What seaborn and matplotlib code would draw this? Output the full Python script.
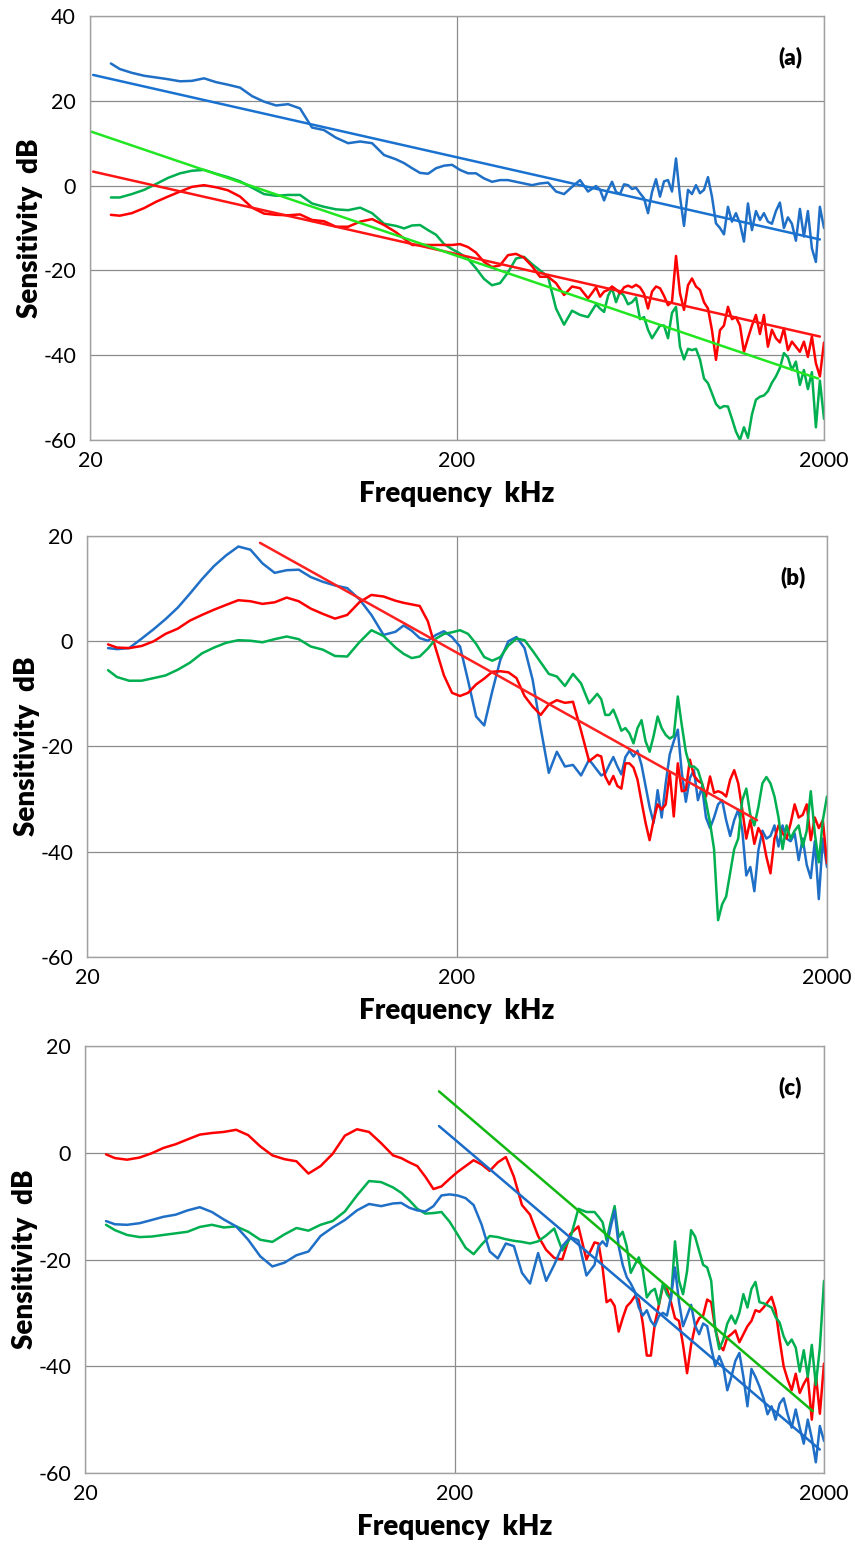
import numpy as np
import pandas as pd
import matplotlib
matplotlib.use("Agg")
import matplotlib.pyplot as plt
from matplotlib.ticker import NullLocator
import seaborn as sns

sns.set_theme(style="white")
plt.rcParams['font.family'] = ['Lato', 'DejaVu Sans']
plt.rcParams['axes.unicode_minus'] = False

# ---------------- data ----------------
FREQ = [22.8, 24.1, 26.0, 28.1, 30.3, 32.6, 35.2, 37.9, 40.9, 44.1, 47.5, 51.3, 55.3, 59.6, 64.3,
        69.3, 74.7, 80.5, 86.8, 93.6, 101.0, 108.9, 117.4, 126.6, 136.4,
        143.5, 150.9, 158.6, 166.8, 175.4, 184.4, 193.9, 203.8, 214.3, 225.3, 236.9, 249.1, 262.0,
        275.4, 289.6, 304.5, 320.2, 336.7, 354.1, 372.3, 391.5, 411.6, 432.8, 455.1, 478.6,
        490.7, 503.2, 516.0, 529.1, 542.5, 556.3, 570.4, 584.9, 599.8, 615.0,
        630.6, 646.6, 663.0, 679.9, 697.1, 714.8, 733.0, 751.6, 770.7, 790.3,
        810.3, 830.9, 852.0, 873.6, 895.8, 918.6, 941.9, 965.8, 990.3, 1015.5,
        1041.3, 1067.7, 1094.8, 1122.6, 1151.1, 1180.4, 1210.3, 1241.1, 1272.6, 1304.9,
        1338.0, 1372.0, 1406.8, 1442.5, 1479.2, 1516.7, 1555.2, 1594.7, 1635.2, 1676.8,
        1719.3, 1763.0, 1807.8, 1853.7, 1900.7, 1949.0, 2000.0]

# panel (a)
A_BLUE = [28.8, 27.5, 26.6, 25.9, 25.5, 25.1, 24.6, 24.7, 25.3, 24.4, 23.8, 23.1, 21.1, 19.8, 18.9,
          19.2, 18.2, 13.7, 13.1, 11.3, 10.0, 10.4, 10.0, 7.2, 6.2,
          5.3, 4.1, 3.0, 2.8, 4.1, 4.7, 4.9, 3.7, 2.9, 2.9, 1.7, 0.9, 1.3, 1.3, 0.9, 0.5, 0.1, 0.5,
          0.7, -1.4, -2.0, -0.3, 1.3, -1.4, -0.1,
          -1.0, -3.5, -1.0, 0.9, -1.5, -2.0, 0.3, 0.1, -0.8, -0.5,
          -1.8, -3.0, -6.5, -1.5, 1.5, -2.6, 1.0, 1.3, -1.4, 6.4,
          -2.6, -9.5, -1.0, -2.0, 0.1, -1.8, -1.0, 2.0, -2.6, -8.9,
          -10.0, -11.5, -5.0, -8.5, -6.5, -8.9, -13.2, -4.2, -10.5, -6.0,
          -8.1, -6.5, -8.5, -9.0, -6.0, -4.0, -10.0, -7.5, -9.0, -13.0,
          -5.5, -12.0, -6.0, -14.8, -18.0, -5.0, -10.0]
A_RED = [-6.9, -7.1, -6.5, -5.3, -3.8, -2.6, -1.4, -0.3, 0.1, -0.4, -1.1, -2.6, -5.2, -6.6, -6.9,
         -7.0, -6.8, -8.1, -8.4, -9.7, -9.7, -8.5, -7.9, -9.3, -11.0,
         -12.5, -14.0, -14.0, -14.0, -14.0, -14.0, -14.0, -13.8, -14.5, -15.8, -18.0, -19.2, -18.8,
         -16.4, -16.1, -17.0, -19.0, -21.5, -21.5, -23.0, -25.8, -23.8, -24.2, -26.6, -24.0,
         -26.2, -25.0, -24.6, -23.8, -24.5, -25.4, -24.0, -23.6, -24.0, -23.4,
         -24.0, -25.5, -29.0, -25.0, -23.8, -24.2, -26.0, -28.2, -27.4, -16.6,
         -25.4, -29.3, -23.5, -21.9, -23.8, -24.6, -27.5, -29.0, -34.1, -41.1,
         -34.1, -33.0, -28.6, -31.5, -31.0, -33.0, -39.2, -36.0, -33.0, -30.5,
         -35.0, -30.5, -38.0, -34.0, -36.0, -37.0, -33.7, -38.8, -36.8, -38.0,
         -39.2, -36.8, -40.4, -35.6, -41.9, -45.0, -37.0]
A_GREEN = [-2.8, -2.8, -2.0, -1.0, 0.4, 1.8, 2.9, 3.5, 3.7, 2.8, 2.0, 1.0, -0.5, -2.0, -2.4,
           -2.2, -2.2, -4.2, -5.0, -5.6, -5.8, -5.2, -6.5, -9.0, -9.5,
           -10.1, -9.4, -9.3, -10.5, -11.6, -13.8, -15.0, -16.0, -17.3, -19.5, -22.0, -23.5, -23.0,
           -20.5, -17.2, -16.8, -18.5, -20.0, -21.5, -29.0, -32.8, -29.5, -30.5, -31.0, -28.0,
           -29.0, -29.8, -26.0, -24.2, -27.5, -25.0, -26.0, -28.0, -27.5, -26.4,
           -31.5, -31.0, -34.0, -36.0, -34.5, -33.0, -33.0, -36.0, -30.0, -28.6,
           -38.0, -41.0, -38.5, -38.8, -38.5, -41.0, -45.5, -46.6, -49.0, -51.5,
           -52.5, -52.0, -52.1, -55.0, -58.0, -60.0, -57.0, -59.5, -54.0, -50.5,
           -49.8, -49.5, -48.5, -46.5, -45.0, -43.0, -39.5, -40.5, -43.5, -41.5,
           -47.0, -43.5, -48.0, -44.0, -57.0, -46.0, -55.0]

# panel (b)
B_BLUE = [-1.3, -1.5, -1.3, 0.5, 2.3, 4.2, 6.4, 9.0, 11.8, 14.3, 16.3, 18.0, 17.4, 14.8, 13.0,
          13.5, 13.6, 12.2, 11.3, 10.6, 10.1, 8.0, 5.0, 1.2, 1.8,
          3.0, 2.0, 0.6, 0.1, 1.2, 1.9, 0.8, -1.0, -7.5, -14.3, -16.0, -9.5, -3.5, 0.0, 0.8, -1.3,
          -7.3, -16.5, -25.0, -21.0, -23.8, -23.5, -25.5, -22.5, -24.5,
          -25.5, -25.1, -23.5, -22.0, -23.8, -25.3, -22.0, -20.8, -21.9, -20.8,
          -23.5, -27.5, -31.5, -34.5, -28.3, -33.5, -27.0, -21.5, -19.0, -16.8,
          -25.0, -30.5, -26.0, -24.5, -30.2, -27.6, -33.5, -35.5, -33.5, -31.0,
          -30.2, -34.0, -37.0, -34.0, -32.0, -35.9, -44.5, -42.9, -47.5, -39.7,
          -36.0, -37.5, -37.0, -35.0, -39.0, -35.0, -37.5, -38.0, -36.5, -41.6,
          -37.5, -42.5, -45.0, -38.0, -49.0, -37.5, -42.9]
B_RED = [-0.6, -1.2, -1.3, -0.9, 0.0, 1.4, 2.4, 3.9, 5.0, 6.0, 6.9, 7.8, 7.6, 7.1, 7.4,
         8.3, 7.6, 6.2, 5.2, 4.3, 5.0, 7.4, 8.8, 8.5, 7.7,
         7.3, 7.0, 6.7, 3.8, -1.5, -6.5, -9.8, -10.4, -9.8, -8.2, -7.1, -5.8, -5.7, -5.9, -7.0,
         -10.4, -12.4, -14.0, -12.0, -11.2, -11.7, -11.5, -17.0, -22.8, -21.6,
         -21.9, -25.7, -27.2, -25.6, -27.5, -28.0, -23.2, -23.2, -24.0, -26.3,
         -30.5, -34.5, -37.8, -34.0, -31.0, -32.0, -31.0, -25.0, -33.3, -23.2,
         -28.5, -28.3, -22.5, -25.5, -26.5, -27.0, -29.5, -25.7, -28.8, -28.5,
         -28.8, -29.5, -26.3, -24.5, -27.0, -32.0, -37.5, -34.0, -38.5, -35.5,
         -37.0, -41.0, -44.1, -37.5, -35.0, -36.5, -37.5, -34.6, -31.0, -33.5,
         -33.0, -31.0, -37.8, -33.5, -35.5, -34.0, -42.2]
B_GREEN = [-5.5, -6.8, -7.5, -7.5, -7.0, -6.5, -5.4, -4.1, -2.3, -1.2, -0.3, 0.2, 0.1, -0.2, 0.4,
           0.9, 0.4, -1.0, -1.6, -2.8, -2.9, -0.2, 2.1, 1.0, -1.2,
           -2.4, -3.2, -2.9, -1.4, 0.5, 1.4, 1.7, 2.1, 1.4, -0.5, -3.0, -3.7, -3.0, -0.8, 0.5, 0.2,
           -1.8, -4.0, -6.2, -6.7, -8.5, -6.2, -8.0, -11.8, -10.0,
           -11.0, -14.0, -14.0, -13.0, -14.9, -17.0, -16.5, -17.5, -19.4, -16.5,
           -15.0, -19.0, -21.0, -18.0, -14.3, -16.5, -17.8, -18.5, -18.0, -10.5,
           -16.0, -21.0, -23.8, -23.8, -24.5, -27.0, -30.5, -34.5, -39.5, -53.0,
           -50.0, -48.5, -44.0, -39.5, -37.5, -30.2, -28.0, -33.0, -35.0, -31.5,
           -27.0, -25.8, -27.0, -29.5, -33.5, -39.5, -35.0, -37.5, -36.0, -35.0,
           -39.0, -36.0, -28.5, -36.5, -42.0, -34.0, -29.5]

# panel (c)
C_RED = [-0.3, -1.0, -1.3, -0.9, -0.1, 0.9, 1.6, 2.5, 3.4, 3.7, 3.9, 4.3, 3.3, 1.2, -0.5,
         -1.2, -1.6, -3.9, -2.5, -0.2, 3.2, 4.4, 3.9, 1.8, -0.5,
         -1.0, -1.8, -2.5, -4.5, -6.8, -6.3, -4.9, -3.6, -2.5, -1.4, -2.2, -3.4, -1.8, -0.8, -4.5,
         -9.8, -11.6, -15.6, -18.2, -19.7, -20.0, -15.2, -13.8, -20.0, -16.8,
         -17.0, -21.5, -28.0, -27.5, -28.7, -33.5, -31.0, -28.8, -28.0, -26.9,
         -27.5, -32.0, -38.0, -38.0, -32.0, -28.5, -25.0, -25.5, -28.0, -31.0,
         -31.5, -36.0, -41.3, -36.0, -32.5, -31.0, -30.5, -27.5, -28.0, -33.0,
         -36.0, -37.0, -34.6, -34.0, -33.3, -35.5, -34.0, -32.5, -31.5, -29.5,
         -29.8, -29.0, -28.0, -27.0, -29.5, -35.0, -40.0, -42.5, -44.5, -41.4,
         -45.0, -43.3, -42.0, -50.0, -41.5, -48.9, -39.5]
C_BLUE = [-12.8, -13.4, -13.5, -13.2, -12.6, -12.0, -11.6, -10.8, -10.2, -11.1, -12.5, -13.8, -16.3,
          -19.4, -21.3, -20.6, -19.2, -18.5, -15.6, -14.0, -12.6, -10.8, -9.6, -10.0, -9.5,
          -9.4, -10.3, -10.8, -11.0, -10.0, -8.0, -7.8, -8.0, -8.5, -9.8, -13.5, -18.5, -19.8, -17.0,
          -17.5, -22.5, -24.5, -18.8, -24.0, -21.0, -17.5, -15.8, -16.4, -23.0, -21.0,
          -17.5, -16.6, -17.5, -14.0, -10.8, -17.5, -21.0, -23.3, -24.5, -26.0,
          -29.0, -30.5, -29.5, -31.5, -32.5, -30.6, -30.0, -30.5, -27.0, -21.5,
          -28.0, -32.5, -30.5, -28.5, -32.4, -34.0, -32.0, -32.5, -36.5, -40.0,
          -38.1, -40.0, -44.5, -42.0, -39.0, -37.5, -42.0, -47.5, -40.5, -42.0,
          -43.8, -46.0, -49.0, -47.5, -50.0, -47.0, -46.0, -49.0, -51.5, -48.1,
          -51.5, -54.5, -50.0, -53.5, -58.0, -51.2, -54.0]
C_GREEN = [-13.5, -14.5, -15.4, -15.8, -15.7, -15.4, -15.1, -14.8, -13.9, -13.5, -14.0, -13.8, -14.8,
           -16.3, -16.7, -15.3, -14.1, -14.6, -13.5, -12.8, -11.0, -8.0, -5.3, -5.5, -6.5,
           -7.5, -8.9, -10.5, -11.4, -11.3, -11.1, -12.9, -15.3, -17.8, -19.0, -17.2, -15.6, -15.8,
           -16.2, -16.5, -16.7, -17.0, -16.6, -15.5, -14.2, -18.3, -16.0, -10.5, -11.1, -11.1,
           -12.0, -13.0, -16.4, -13.0, -10.0, -15.8, -14.8, -17.5, -22.5, -21.0,
           -19.6, -22.0, -27.1, -26.0, -25.5, -28.4, -24.5, -26.5, -27.5, -16.6,
           -24.0, -26.5, -22.2, -14.5, -15.7, -18.4, -21.0, -21.5, -24.0, -33.0,
           -36.8, -35.0, -32.0, -30.5, -32.0, -30.0, -26.5, -29.0, -25.5, -24.2,
           -28.0, -28.2, -28.6, -29.0, -30.8, -31.8, -34.4, -36.0, -35.0, -36.5,
           -41.0, -37.0, -42.0, -36.0, -43.5, -36.5, -24.0]

# straight trend lines: (start freq, end freq), (start dB, end dB)
A_FIT_BLUE = ([20.4, 1949.0], [26.1, -12.7])
A_FIT_RED = ([20.4, 1949.0], [3.3, -35.6])
A_FIT_GREEN = ([20.2, 1926.0], [12.7, -45.5])
B_FIT_RED = ([58.7, 1294.0], [18.7, -34.0])
C_FIT_GREEN = ([181.6, 1864.0], [11.5, -48.4])
C_FIT_BLUE = ([181.6, 1948.0], [5.0, -55.6])

X_TICKS = [20, 200, 2000]
X_TICK_LABELS = ["20", "200", "2000"]
A_Y_TICKS = [-60, -40, -20, 0, 20, 40]
BC_Y_TICKS = [-60, -40, -20, 0, 20]
PANEL_LABELS = ["(a)", "(b)", "(c)"]

# ---------------- style ----------------
BLUE = "#1F6FC6"
RED = "#FF0000"
GREEN = "#00B050"
W, H = 855, 1544

fig = plt.figure(figsize=(W / 100, H / 100), dpi=100)

panels = [
    dict(box=(90, 16, 824, 440), ylim=(-60, 40), yticks=A_Y_TICKS,
         curves=[(A_GREEN, GREEN), (A_RED, RED), (A_BLUE, BLUE)],
         fits=[(A_FIT_BLUE, "#1A72D0"), (A_FIT_RED, "#FF1414"), (A_FIT_GREEN, "#22E622")]),
    dict(box=(87, 536, 827, 957), ylim=(-60, 20), yticks=BC_Y_TICKS,
         curves=[(B_BLUE, BLUE), (B_RED, RED), (B_GREEN, GREEN)],
         fits=[(B_FIT_RED, "#FF2020")]),
    dict(box=(85, 1046, 824, 1473), ylim=(-60, 20), yticks=BC_Y_TICKS,
         curves=[(C_RED, RED), (C_GREEN, GREEN), (C_BLUE, BLUE)],
         fits=[(C_FIT_GREEN, "#12B812"), (C_FIT_BLUE, "#1A6CC8")]),
]

for p, label in zip(panels, PANEL_LABELS):
    l, t, r, b = p["box"]
    ax = fig.add_axes([l / W, 1 - b / H, (r - l) / W, (b - t) / H])
    for vals, col in p["curves"]:
        df = pd.DataFrame({"freq": FREQ, "db": vals})
        sns.lineplot(data=df, x="freq", y="db", color=col, lw=1.8, ax=ax,
                     estimator=None, sort=False)
    for (fx, fy), col in p["fits"]:
        dff = pd.DataFrame({"freq": fx, "db": fy})
        sns.lineplot(data=dff, x="freq", y="db", color=col, lw=1.8, ax=ax,
                     estimator=None, sort=False)
    ax.set_xscale("log")
    ax.set_xlim(20, 2000)
    ax.set_ylim(*p["ylim"])
    ax.set_xticks(X_TICKS)
    ax.set_xticklabels(X_TICK_LABELS)
    ax.xaxis.set_minor_locator(NullLocator())
    ax.set_yticks(p["yticks"])
    ax.set_yticklabels([str(v) for v in p["yticks"]])
    ax.grid(True, which="major", color="#8c8c8c", lw=0.9)
    ax.set_axisbelow(True)
    for s in ax.spines.values():
        s.set_color("#a0a0a0")
        s.set_linewidth(1.0)
    ax.tick_params(axis="both", length=0, labelsize=15.5, colors="black")
    ax.tick_params(axis="x", pad=8)
    ax.tick_params(axis="y", pad=10)
    ax.set_xlabel("Frequency  kHz", fontsize=20, fontweight="heavy", labelpad=7, color="black")
    ax.set_ylabel("Sensitivity  dB", fontsize=20, fontweight="heavy", labelpad=0, color="black")
    ax.text(0.954, 0.903, label, transform=ax.transAxes, ha="center", va="center",
            fontsize=16, fontweight="heavy", color="black")

fig.savefig("out.png", dpi=100)
